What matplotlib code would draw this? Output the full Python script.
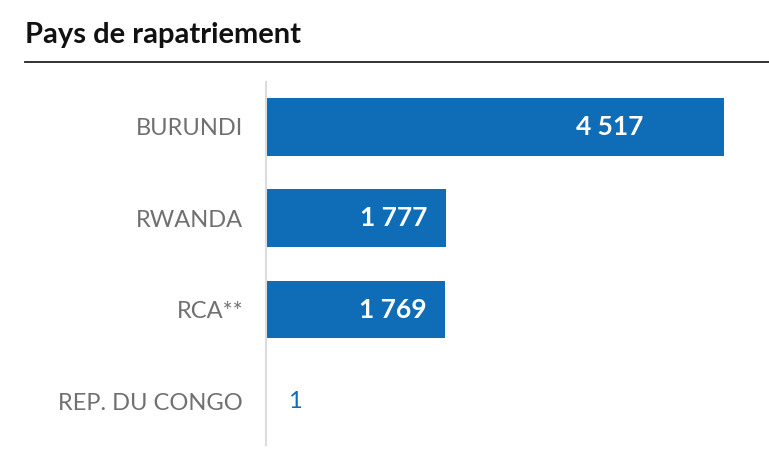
import matplotlib.pyplot as plt

countries = ["BURUNDI", "RWANDA", "RCA**", "REP. DU CONGO"]
values = [4517, 1777, 1769, 1]
labels = ["4 517", "1 777", "1 769", "1"]

BLUE = "#0f6cb6"

plt.rcParams["font.family"] = ["Lato", "DejaVu Sans"]

fig = plt.figure(figsize=(7.69, 4.5), dpi=100)
ax = fig.add_axes([266 / 769, 1 - 445 / 450, 1 - 266 / 769, (445 - 82) / 450])

pos = list(range(len(countries)))
ax.barh(pos, values, height=0.63, color=BLUE)
ax.set_xlim(0, 4517 * (769 - 266) / 458)
ax.set_ylim(3.48, -0.49)

# white labels inside the big bars, blue outside for tiny ones
inside_frac = [0.823, 0.894, 0.894]
for i, (v, lab) in enumerate(zip(values, labels)):
    if v > 500:
        ax.text(v * inside_frac[i], i, lab, ha="right", va="center",
                color="white", fontsize=19, fontweight="bold")
    else:
        ax.text(v + 220, i, lab, ha="left", va="center",
                color=BLUE, fontsize=17)

ax.set_yticks(pos)
ax.set_yticklabels(countries, fontsize=17, color="#707070")
ax.tick_params(axis="y", length=0, pad=16.5)
ax.set_xticks([])
for s in ["top", "right", "bottom"]:
    ax.spines[s].set_visible(False)
ax.spines["left"].set_color("#dcdcdc")
ax.spines["left"].set_linewidth(1.5)

fig.text(25 / 769, 1 - 35 / 450, "Pays de rapatriement", fontsize=21,
         fontweight="bold", color="#111111", va="center", ha="left")
fig.add_artist(plt.Line2D([25 / 769, 1], [1 - 62 / 450, 1 - 62 / 450],
                          color="#222222", linewidth=1.3))

fig.savefig("out.png", dpi=100)
